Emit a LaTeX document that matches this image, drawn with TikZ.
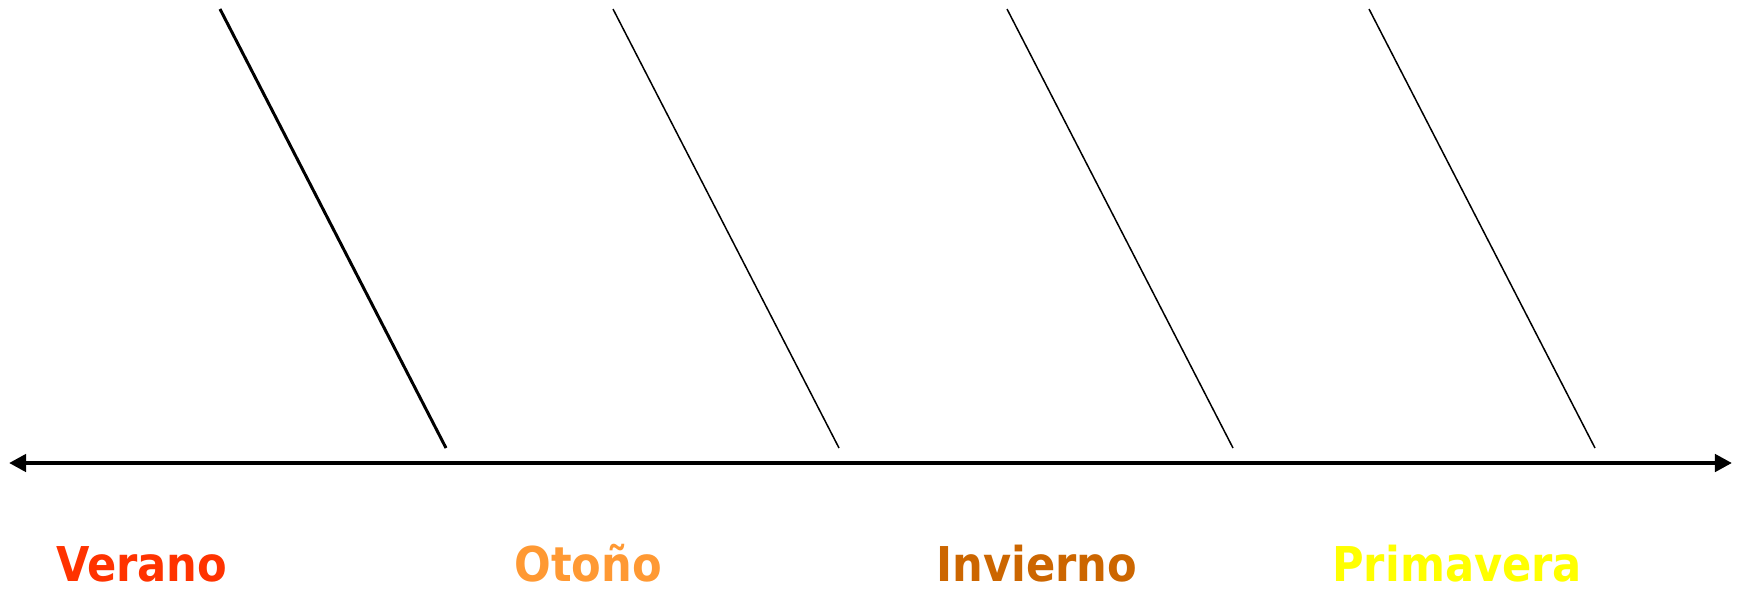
\documentclass[tikz,border=0pt]{standalone}
\usepackage{fontspec}
\setmainfont{DejaVu Sans Condensed}
\usetikzlibrary{arrows.meta}

\definecolor{verano}{HTML}{FF3300}
\definecolor{otono}{HTML}{FF9933}
\definecolor{invierno}{HTML}{CC6600}
\definecolor{primavera}{HTML}{FFFF00}

\begin{document}
\begin{tikzpicture}[x=0.02cm,y=-0.02cm,
    season/.style={inner sep=0pt,text depth=0pt,anchor=base west,font=\fontsize{27.3}{30}\selectfont\bfseries},
    tick/.style={line width=0.85pt}]
  \useasboundingbox (0,0) rectangle (1744,589);
  \coordinate (L) at (9,463);
  \coordinate (R) at (1732,463);
  \coordinate (T1) at (220,9);
  \coordinate (B1) at (446,448);
  \coordinate (T2) at (613,9);
  \coordinate (B2) at (839,448);
  \coordinate (T3) at (1007,9);
  \coordinate (B3) at (1233,448);
  \coordinate (T4) at (1369,9);
  \coordinate (B4) at (1595,448);
  \node[season,text=verano] (S1) at (56,581) {Verano};
  \node[season,text=otono] (S2) at (514,581) {Otoño};
  \node[season,text=invierno] (S3) at (936,581) {Invierno};
  \node[season,text=primavera] (S4) at (1332,581) {Primavera};
  \draw[line width=2.8pt,{Triangle[length=9.7pt,width=9.7pt]}-{Triangle[length=9.7pt,width=9.7pt]}] (L) -- (R);
  \draw[line width=1.7pt] (T1) -- (B1);
  \draw[tick] (T2) -- (B2);
  \draw[tick] (T3) -- (B3);
  \draw[tick] (T4) -- (B4);
\end{tikzpicture}
\end{document}
